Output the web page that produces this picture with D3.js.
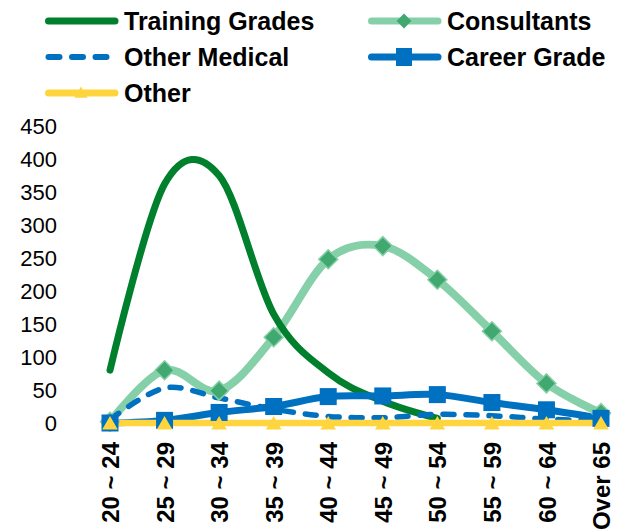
<!DOCTYPE html>
<html>
<head>
<meta charset="utf-8">
<script src="https://cdn.jsdelivr.net/npm/d3@7"></script>
<style>
  html, body { margin: 0; padding: 0; background: #fff; }
  svg { display: block; }
  text { font-family: "Liberation Sans", Arial, sans-serif; fill: #000; }
</style>
</head>
<body>
<svg id="chart" width="619" height="532"></svg>
<script>
// Age bands on the x axis
const ageBands = ["20 ~ 24", "25 ~ 29", "30 ~ 34", "35 ~ 39", "40 ~ 44",
                  "45 ~ 49", "50 ~ 54", "55 ~ 59", "60 ~ 64", "Over 65"];

// Headcount per age band for each staff group (null = no entry)
const trainingGrades = [80, 362, 375, 165, 76, 33, 7, null, null, null];
const consultants    = [2, 80, 49, 130, 248, 268, 217, 139, 60, 15];
const otherMedical   = [5, 53, 38, 21, 10, 8, 13, 11, 6, 3];
const careerGrade    = [0, 4, 16, 25, 40, 41, 43, 31, 20, 7];
const other          = [0, 0, 0, 0, 0, 0, 0, 0, 0, 0];

const yTicks = [0, 50, 100, 150, 200, 250, 300, 350, 400, 450];

const seriesNames = ["Training Grades", "Consultants", "Other Medical", "Career Grade", "Other"];

const svg = d3.select("#chart");

const x = d3.scalePoint().domain(ageBands).range([110, 601]);
const y = d3.scaleLinear().domain([0, 450]).range([423, 126]);

// Y axis: labels only
const yAxis = svg.append("g")
  .attr("transform", "translate(62,0)")
  .call(d3.axisLeft(y).tickValues(yTicks).tickSize(0).tickPadding(5));
yAxis.select(".domain").remove();
yAxis.selectAll("text")
  .style("font-family", "'Liberation Sans', Arial, sans-serif")
  .style("font-size", "22px");

// X axis: rotated bold labels
const xAxis = svg.append("g")
  .attr("transform", "translate(0,442)")
  .call(d3.axisBottom(x).tickSize(0).tickPadding(0));
xAxis.select(".domain").remove();
xAxis.selectAll("text")
  .attr("transform", "rotate(-90)")
  .attr("text-anchor", "end")
  .attr("x", 0)
  .attr("y", 0)
  .attr("dy", "0.36em")
  .style("font-family", "'Liberation Sans', Arial, sans-serif")
  .style("font-size", "24px")
  .style("font-weight", "bold");

const curve = d3.curveCatmullRom.alpha(0);
const line = d3.line()
  .defined(d => d !== null)
  .x((d, i) => x(ageBands[i]))
  .y(d => y(d))
  .curve(curve);

const colors = {
  training: "#00802C",
  consultLine: "#85D0A8",
  consultMarker: "#41A86F",
  blue: "#0070C0",
  yellow: "#FFD53F"
};

const plot = svg.append("g");

// Lines
plot.append("path").datum(consultants).attr("d", line)
  .attr("fill", "none").attr("stroke", colors.consultLine)
  .attr("stroke-width", 8).attr("stroke-linecap", "round").attr("stroke-linejoin", "round");
plot.append("path").datum(trainingGrades).attr("d", line)
  .attr("fill", "none").attr("stroke", colors.training)
  .attr("stroke-width", 7).attr("stroke-linecap", "round").attr("stroke-linejoin", "round");
plot.append("path").datum(otherMedical).attr("d", line)
  .attr("fill", "none").attr("stroke", colors.blue)
  .attr("stroke-width", 5.5).attr("stroke-dasharray", "11,12")
  .attr("stroke-linecap", "round").attr("stroke-linejoin", "round");
plot.append("path").datum(careerGrade).attr("d", line)
  .attr("fill", "none").attr("stroke", colors.blue)
  .attr("stroke-width", 7).attr("stroke-linecap", "round").attr("stroke-linejoin", "round");
plot.append("path").datum(other).attr("d", line)
  .attr("fill", "none").attr("stroke", colors.yellow)
  .attr("stroke-width", 6.5).attr("stroke-linecap", "round").attr("stroke-linejoin", "round");

// Markers
const diamond = d3.symbol().type(d3.symbolSquare).size(180);
plot.selectAll(".m-cons").data(consultants).join("path")
  .attr("class", "m-cons")
  .attr("d", diamond)
  .attr("transform", (d, i) => `translate(${x(ageBands[i])},${y(d)}) rotate(45)`)
  .attr("fill", colors.consultMarker)
  .attr("stroke", colors.consultLine).attr("stroke-width", 1.5);

plot.selectAll(".m-career").data(careerGrade).join("rect")
  .attr("class", "m-career")
  .attr("x", (d, i) => x(ageBands[i]) - 8.5)
  .attr("y", d => y(d) - 8.5)
  .attr("width", 17).attr("height", 17)
  .attr("fill", colors.blue);

const tri = d3.symbol().type(d3.symbolTriangle).size(105);
plot.selectAll(".m-other").data(other).join("path")
  .attr("class", "m-other")
  .attr("d", tri)
  .attr("transform", (d, i) => `translate(${x(ageBands[i])},${y(d) + 2})`)
  .attr("fill", colors.yellow);

// Legend
const legend = svg.append("g");
const legendItems = [
  { name: seriesNames[0], col: 0, row: 0, stroke: colors.training, width: 7 },
  { name: seriesNames[1], col: 1, row: 0, stroke: colors.consultLine, width: 7, marker: "diamond" },
  { name: seriesNames[2], col: 0, row: 1, stroke: colors.blue, width: 6, dash: "11,12.5" },
  { name: seriesNames[3], col: 1, row: 1, stroke: colors.blue, width: 7, marker: "square" },
  { name: seriesNames[4], col: 0, row: 2, stroke: colors.yellow, width: 7, marker: "triangle" }
];
const colX = [45, 368];
const rowY = [21, 57, 93];

legendItems.forEach(it => {
  const g = legend.append("g")
    .attr("transform", `translate(${colX[it.col]},${rowY[it.row]})`);
  const ln = g.append("line")
    .attr("x1", 3.5).attr("x2", 70).attr("y1", 0).attr("y2", 0)
    .attr("stroke", it.stroke).attr("stroke-width", it.width)
    .attr("stroke-linecap", "round");
  if (it.dash) ln.attr("stroke-dasharray", it.dash);
  if (it.marker === "diamond") {
    g.append("path").attr("d", d3.symbol().type(d3.symbolSquare).size(110))
      .attr("transform", "translate(36,0) rotate(45)")
      .attr("fill", colors.consultMarker);
  } else if (it.marker === "square") {
    g.append("rect").attr("x", 36 - 8).attr("y", -9).attr("width", 16).attr("height", 18)
      .attr("fill", colors.blue);
  } else if (it.marker === "triangle") {
    g.append("path").attr("d", d3.symbol().type(d3.symbolTriangle).size(75))
      .attr("transform", "translate(36,1)")
      .attr("fill", colors.yellow);
  }
  g.append("text")
    .attr("x", 79).attr("y", 0).attr("dy", "0.36em")
    .style("font-size", "25px").style("font-weight", "bold")
    .text(it.name);
});
</script>
</body>
</html>
